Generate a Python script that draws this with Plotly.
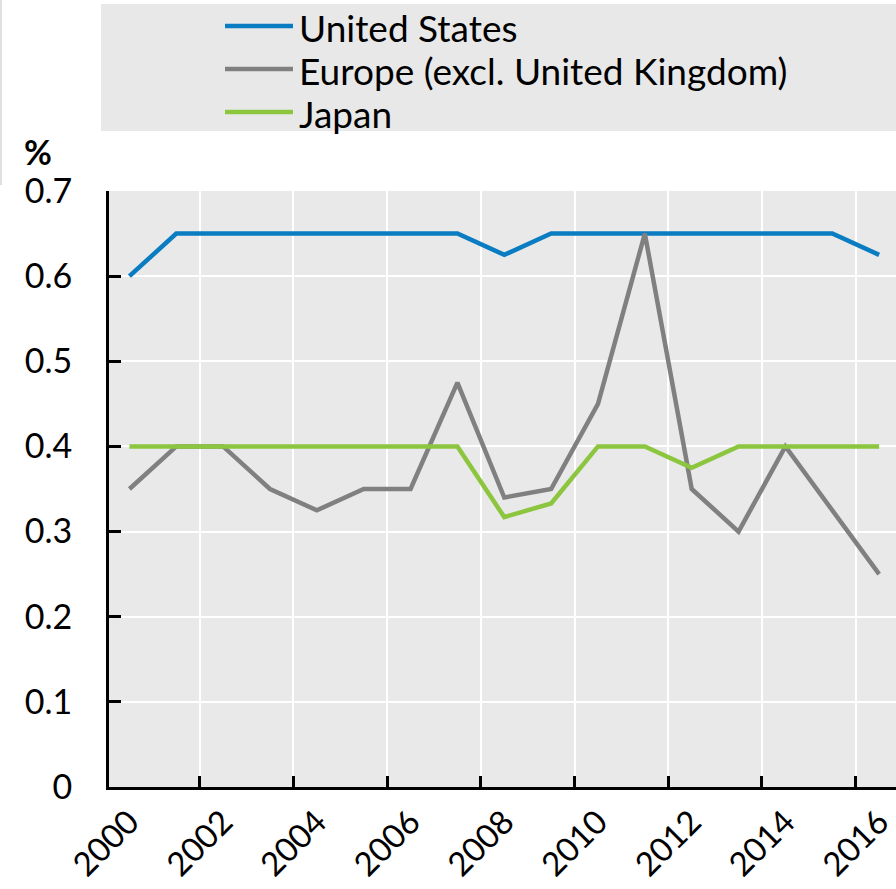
import plotly.graph_objects as go

# Annual data (%)
years = list(range(2000, 2017))
united_states = [0.60, 0.65, 0.65, 0.65, 0.65, 0.65, 0.65, 0.65, 0.625,
                 0.65, 0.65, 0.65, 0.65, 0.65, 0.65, 0.65, 0.625]
europe_ex_uk = [0.35, 0.40, 0.40, 0.35, 0.325, 0.35, 0.35, 0.475, 0.34,
                0.35, 0.45, 0.65, 0.35, 0.30, 0.40, 0.325, 0.25]
japan = [0.40, 0.40, 0.40, 0.40, 0.40, 0.40, 0.40, 0.40, 0.317,
         0.333, 0.40, 0.40, 0.375, 0.40, 0.40, 0.40, 0.40]

series_names = ["United States", "Europe (excl. United Kingdom)", "Japan"]
series_values = [united_states, europe_ex_uk, japan]
series_colors = ["#0a7cc1", "#808080", "#8cc63f"]

y_ticks = [0, 0.1, 0.2, 0.3, 0.4, 0.5, 0.6, 0.7]
y_ticktext = ["0", "0.1", "0.2", "0.3", "0.4", "0.5", "0.6", "0.7"]
x_label_years = list(range(2000, 2017, 2))
x_grid_positions = [y + 0.5 for y in range(2001, 2016, 2)]
x_range = [1999.564, 2016.36]

FONT = "Lato"
W, H = 896, 889
L, R, T, B = 109, 0, 191, 102
plot_w = W - L - R
plot_h = H - T - B


def px_x(px):
    return (px - L) / plot_w


def px_y(py):
    return (H - B - py) / plot_h


fig = go.Figure()
for name, vals, col in zip(series_names, series_values, series_colors):
    fig.add_trace(go.Scatter(
        x=years, y=vals, name=name, mode="lines",
        line=dict(color=col, width=4.5),
        showlegend=False,
    ))

shapes = []
annotations = []

# legend panel
shapes.append(dict(type="rect", xref="paper", yref="paper",
                   x0=px_x(101), x1=px_x(W + 5), y0=px_y(131), y1=px_y(4),
                   fillcolor="#e8e8e8", line=dict(width=0), layer="below"))
row_y = [26, 69, 112]
for name, col, ry in zip(series_names, series_colors, row_y):
    shapes.append(dict(type="line", xref="paper", yref="paper",
                       x0=px_x(225), x1=px_x(293), y0=px_y(ry), y1=px_y(ry),
                       line=dict(color=col, width=4.5)))
    annotations.append(dict(text=name, xref="paper", yref="paper",
                            x=px_x(297), y=px_y(ry + 1), xanchor="left",
                            yanchor="middle", showarrow=False,
                            font=dict(family=FONT, size=37, color="black")))

# thin frame edge on the left
shapes.append(dict(type="line", xref="paper", yref="paper",
                   x0=px_x(1), x1=px_x(1), y0=px_y(185), y1=px_y(0),
                   line=dict(color="#e0e0e0", width=2)))

# unit label
annotations.append(dict(text="<b>%</b>", xref="paper", yref="paper",
                        x=px_x(38), y=px_y(152), xanchor="center",
                        yanchor="middle", showarrow=False,
                        font=dict(family=FONT, size=34, color="black")))

fig.update_layout(
    width=W, height=H,
    margin=dict(l=L, r=R, t=T, b=B, autoexpand=False),
    paper_bgcolor="white",
    plot_bgcolor="#e9e9e9",
    font=dict(family=FONT, size=34, color="black"),
    shapes=shapes,
    annotations=annotations,
    showlegend=False,
    # category boundaries: gridlines and inside ticks
    xaxis=dict(
        range=x_range, automargin=False,
        tickmode="array", tickvals=x_grid_positions, showticklabels=False,
        ticks="inside", ticklen=11, tickwidth=2.5, tickcolor="black",
        showgrid=True, gridcolor="white", gridwidth=2, zeroline=False,
        showline=True, linecolor="black", linewidth=3,
    ),
    # year labels at category centres
    xaxis2=dict(
        range=x_range, overlaying="x", anchor="y", side="bottom",
        automargin=False,
        tickmode="array", tickvals=x_label_years,
        ticktext=[str(y) for y in x_label_years],
        tickangle=-45, ticks="", showgrid=False, zeroline=False,
        showline=False, ticklabeloverflow="allow",
        ticklabelstandoff=8,
        tickfont=dict(family=FONT, size=33, color="black"),
    ),
    yaxis=dict(
        range=[0, 0.7], automargin=False,
        tickmode="array", tickvals=y_ticks, ticktext=y_ticktext,
        ticks="inside", ticklen=12, tickwidth=2.5, tickcolor="black",
        showgrid=True, gridcolor="white", gridwidth=2, zeroline=False,
        showline=True, linecolor="black", linewidth=3,
        tickfont=dict(family=FONT, size=34, color="black"),
        ticklabelstandoff=27,
    ),
)

# invisible trace to activate the label axis
fig.add_trace(go.Scatter(x=[years[0]], y=[None], xaxis="x2", yaxis="y",
                         mode="lines", showlegend=False, hoverinfo="skip"))

fig.write_html("out.html")
